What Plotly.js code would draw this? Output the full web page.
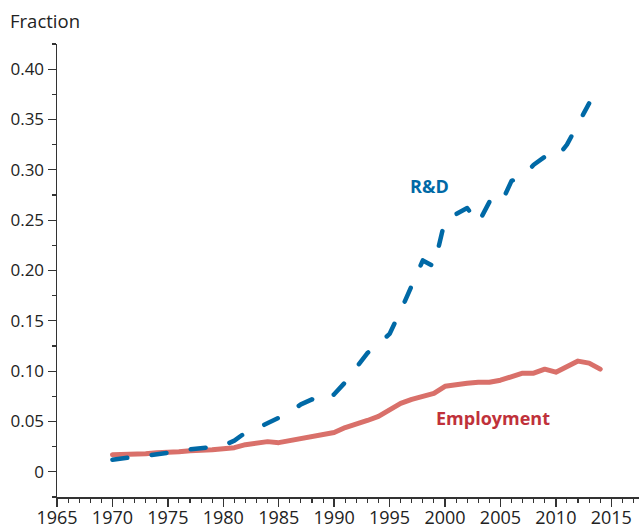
<!DOCTYPE html>
<html>
<head>
<meta charset="utf-8">
<script src="https://cdn.plot.ly/plotly-3.0.1.min.js"></script>
<style>
  html, body { margin: 0; padding: 0; background: #fff; }
  #chart { width: 639px; height: 531px; }
  .js-line { stroke-linecap: round; stroke-linejoin: round; }
</style>
</head>
<body>
<div id="chart"></div>
<script>
const years = [1970,1971,1972,1973,1974,1975,1976,1977,1978,1979,1980,1981,1982,1983,1984,1985,1986,1987,1988,1989,1990,1991,1992,1993,1994,1995,1996,1997,1998,1999,2000,2001,2002,2003,2004,2005,2006,2007,2008,2009,2010,2011,2012,2013,2014];

const employment = [0.017,0.017,0.018,0.018,0.019,0.019,0.020,0.021,0.021,0.022,0.023,0.024,0.027,0.029,0.030,0.029,0.031,0.034,0.035,0.038,0.039,0.044,0.047,0.051,0.055,0.061,0.068,0.072,0.075,0.078,0.085,0.087,0.088,0.089,0.089,0.091,0.095,0.098,0.098,0.102,0.099,0.105,0.110,0.108,0.102];

const rdYears = [1970,1971,1972,1973,1974,1975,1976,1977,1978,1979,1980,1981,1982,1983,1984,1985,1986,1987,1988,1989,1990,1991,1992,1993,1994,1995,1996,1997,1998,1999,2000,2001,2002,2003,2004,2005,2006,2007,2008,2009,2010,2011,2012,2013];

const rd = [0.012,0.014,0.015,0.016,0.017,0.019,0.021,0.022,0.024,0.025,0.026,0.031,0.039,0.043,0.048,0.053,0.059,0.067,0.072,0.069,0.077,0.089,0.103,0.118,0.127,0.137,0.160,0.185,0.210,0.204,0.250,0.256,0.262,0.247,0.268,0.265,0.289,0.293,0.305,0.313,0.311,0.325,0.345,0.366];

const yTickVals = [0,0.05,0.10,0.15,0.20,0.25,0.30,0.35,0.40];
const yTickText = ["0","0.05","0.10","0.15","0.20","0.25","0.30","0.35","0.40"];
const xTickVals = [1965,1970,1975,1980,1985,1990,1995,2000,2005,2010,2015];

const traces = [
  {
    x: years, y: employment, type: 'scatter', mode: 'lines',
    line: { color: '#d9706a', width: 5 },
    hoverinfo: 'skip'
  },
  {
    x: rdYears, y: rd, type: 'scatter', mode: 'lines',
    line: { color: '#0069a6', width: 4.5, dash: '15px,24.5px' },
    hoverinfo: 'skip'
  }
];

const layout = {
  width: 639, height: 531,
  margin: { l: 57, r: 0, t: 44, b: 34 },
  paper_bgcolor: '#fff', plot_bgcolor: '#fff',
  showlegend: false,
  font: { family: '"Open Sans", sans-serif', color: '#222' },
  xaxis: {
    range: [1965, 2017.5], showgrid: false, zeroline: false,
    showline: true, linecolor: '#333', linewidth: 1.5,
    ticks: 'outside', ticklen: 8, tickwidth: 1.3, tickcolor: '#333',
    tickmode: 'array', tickvals: xTickVals,
    tickfont: { size: 18, color: '#222' },
    ticklabelstandoff: -4,
    minor: { dtick: 1, tick0: 1965, ticks: 'outside', ticklen: 4, tickwidth: 1.1, tickcolor: '#333' },
    fixedrange: true
  },
  yaxis: {
    range: [-0.025, 0.425], showgrid: false, zeroline: false,
    showline: true, linecolor: '#333', linewidth: 1.5,
    ticks: 'outside', ticklen: 8, tickwidth: 1.3, tickcolor: '#333',
    tickmode: 'array', tickvals: yTickVals, ticktext: yTickText,
    tickfont: { size: 17, color: '#222' },
    minor: { dtick: 0.025, tick0: 0, ticks: 'outside', ticklen: 4, tickwidth: 1.1, tickcolor: '#333' },
    fixedrange: true
  },
  annotations: [
    {
      text: 'Fraction', xref: 'paper', yref: 'paper',
      x: -0.0842, y: 1.0508, xanchor: 'left', yanchor: 'middle',
      showarrow: false, font: { size: 18.5, color: '#222' }
    },
    {
      text: '<b>R&amp;D</b>', xref: 'x', yref: 'y',
      x: 1998.56, y: 0.284, xanchor: 'center', yanchor: 'middle',
      showarrow: false, font: { size: 18, color: '#0069a6' }
    },
    {
      text: '<b>Employment</b>', xref: 'x', yref: 'y',
      x: 2004.37, y: 0.0535, xanchor: 'center', yanchor: 'middle',
      showarrow: false, font: { size: 18, color: '#c0313a' }
    }
  ]
};

Plotly.newPlot('chart', traces, layout, { displayModeBar: false, staticPlot: true });
</script>
</body>
</html>
